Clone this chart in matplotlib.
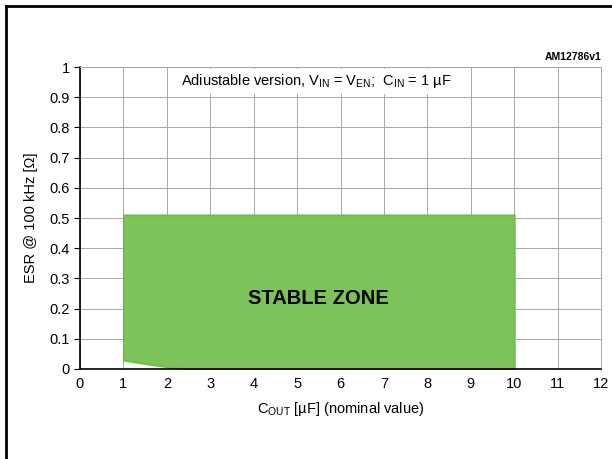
import matplotlib
matplotlib.use('Agg')
import matplotlib.pyplot as plt
from matplotlib.lines import Line2D

plt.rcParams['font.family'] = ['Liberation Sans', 'DejaVu Sans']
plt.rcParams['mathtext.default'] = 'regular'

# stable zone boundary (ESR vs C_OUT)
cout = [1, 1.5, 2, 2.5, 3, 4, 5, 6, 7, 8, 9, 10]
esr_min = [0.03, 0.018, 0.008, 0.0, 0.0, 0.0, 0.0, 0.0, 0.0, 0.0, 0.0, 0.0]
esr_max = [0.51] * len(cout)

xticks = list(range(0, 13))
yticks = [0, 0.1, 0.2, 0.3, 0.4, 0.5, 0.6, 0.7, 0.8, 0.9, 1]
ytick_labels = ['0', '0.1', '0.2', '0.3', '0.4', '0.5', '0.6', '0.7', '0.8', '0.9', '1']

fig = plt.figure(figsize=(6.12, 4.59), dpi=100)
fig.patch.set_facecolor('white')

# page border lines (left + top)
fig.add_artist(Line2D([6/612, 6/612], [0, 1 - 6/459], color='black', lw=2))
fig.add_artist(Line2D([6/612, 1], [1 - 6/459, 1 - 6/459], color='black', lw=2))

ax = fig.add_axes([80/612, 1 - 369/459, 521/612, 302/459])
ax.set_xlim(0, 12)
ax.set_ylim(0, 1)
ax.set_xticks(xticks)
ax.set_yticks(yticks)
ax.set_yticklabels(ytick_labels)
ax.grid(True, color='#a8a8a8', lw=0.7)
ax.set_axisbelow(True)
ax.tick_params(axis='both', labelsize=10.5, length=4, width=0.8, color='black')
ax.tick_params(axis='x', length=0, pad=6)

for s in ['top', 'right']:
    ax.spines[s].set_color('#a8a8a8')
    ax.spines[s].set_linewidth(0.7)
for s in ['left', 'bottom']:
    ax.spines[s].set_color('black')
    ax.spines[s].set_linewidth(1.2)

ax.fill_between(cout, esr_min, esr_max, facecolor='#7dc35a', edgecolor='#6cc04a',
                lw=1.5, zorder=2)

ax.text(5.5, 0.235, 'STABLE ZONE', ha='center', va='center', fontsize=14.5,
        fontweight='bold', color='black', zorder=3)

ax.text(5.45, 0.952, 'Adiustable version, V$_{IN}$ = V$_{EN}$;  C$_{IN}$ = 1 µF',
        ha='center', va='center', fontsize=10.5,
        bbox=dict(facecolor='white', edgecolor='none', pad=2.5), zorder=3)

ax.text(1.0, 1.015, 'AM12786v1', transform=ax.transAxes, ha='right', va='bottom',
        fontsize=7.5, fontweight='bold')

ax.set_xlabel('C$_{OUT}$ [µF] (nominal value)', fontsize=10.5, labelpad=6)
ax.set_ylabel('ESR @ 100 kHz [Ω]', fontsize=10.5, labelpad=8)

plt.savefig('out.png', dpi=100, facecolor='white')
plt.close()
